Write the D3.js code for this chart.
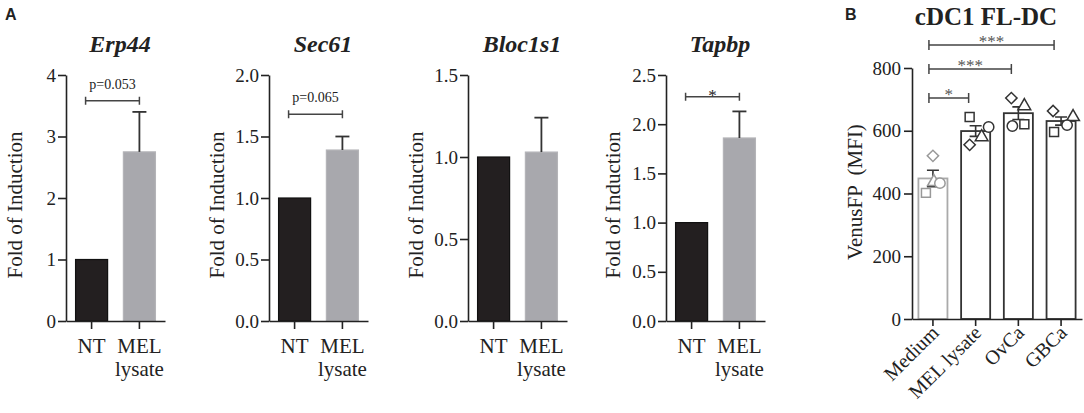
<!DOCTYPE html>
<html>
<head>
<meta charset="utf-8">
<script src="https://cdn.jsdelivr.net/npm/d3@7"></script>
<style>
  body { margin: 0; background: #fff; }
  svg text, svg tspan { font-family: "Liberation Serif", "Times New Roman", Times, serif; fill: #222; }
  svg text.letter { font-family: "Liberation Sans", Arial, sans-serif; font-weight: bold; font-size: 16px; }
  .domain, .tick line { stroke: #222; stroke-width: 1.6; }
</style>
</head>
<body>
<svg id="fig" width="1084" height="413" font-family="Liberation Serif, serif"></svg>
<script>
// ---- panel A data (fold of induction, NT vs MEL lysate) ----
var genes = ["Erp44", "Sec61", "Bloc1s1", "Tapbp"];
var groupsA = ["NT", "MEL lysate"];
var meansA = [[1, 2.75], [1, 1.39], [1, 1.03], [1, 1.86]];
var errA = [[0, 0.65], [0, 0.11], [0, 0.21], [0, 0.27]];
var yMaxA = [4, 2, 1.5, 2.5];
var yStepA = [1, 0.5, 0.5, 0.5];
var pLabelsA = ["p=0.053", "p=0.065", null, "*"];
var pLevelsA = [3.58, 1.68, null, 2.28];

// ---- panel B data (cDC1 FL-DC, VenusFP MFI) ----
var groupsB = ["Medium", "MEL lysate", "OvCa", "GBCa"];
var meansB = [448, 599, 656, 631];
var semB = [26, 17, 20, 13];
var diamondB = [520, 555, 704, 663];
var squareB = [402, 644, 621, 596];
var triangleB = [437, 580, 679, 644];
var circleB = [433, 612, 615, 618];
var yTicksB = [0, 200, 400, 600, 800];
var sigPairsB = [["Medium", "MEL lysate"], ["Medium", "OvCa"], ["Medium", "GBCa"]];
var sigLabelsB = ["*", "***", "***"];
var sigLevelsB = [704, 797, 873];

// layout
var axisXA = [66, 269, 468, 666];
var yLabelXA = [15, 217, 416, 613];
var baseA = 321, topA = 75;
var markerShift = {
  diamond: [0, -6, -7, -8],
  square: [-7, -6, 6, -7],
  triangle: [1, 6, 6, 12],
  circle: [7, 13, -6, 6]
};

var svg = d3.select("#fig");

svg.append("text").attr("class", "letter").attr("x", 5).attr("y", 20).text("A");
svg.append("text").attr("class", "letter").attr("x", 845).attr("y", 20).text("B");

// ---------- panel A ----------
genes.forEach(function(gene, i) {
  var g = svg.append("g").attr("transform", `translate(${axisXA[i]},0)`);

  var x = d3.scaleBand()
    .domain(groupsA)
    .range([0, 99])
    .paddingInner(0.33)
    .paddingOuter(0.2);

  var y = d3.scaleLinear()
    .domain([0, yMaxA[i]])
    .range([baseA, topA]);

  var bw = x.bandwidth();

  // bars
  g.selectAll("rect.bar")
    .data(groupsA)
    .enter()
    .append("rect")
    .attr("class", "bar")
    .attr("x", d => x(d))
    .attr("y", (d, j) => y(meansA[i][j]))
    .attr("width", bw)
    .attr("height", (d, j) => y(0) - y(meansA[i][j]))
    .attr("fill", (d, j) => j == 0 ? "#231f20" : "#a8a8ad")
    .attr("stroke", (d, j) => j == 0 ? "#111" : "#b4b4b8")
    .attr("stroke-width", 1.2);

  // upward error bars
  groupsA.forEach(function(d, j) {
    if (errA[i][j] <= 0) return;
    var cx = x(d) + bw / 2;
    var top = y(meansA[i][j] + errA[i][j]);
    g.append("line")
      .attr("x1", cx).attr("x2", cx)
      .attr("y1", y(meansA[i][j])).attr("y2", top)
      .attr("stroke", "#333").attr("stroke-width", 1.8);
    g.append("line")
      .attr("x1", cx - 7).attr("x2", cx + 7)
      .attr("y1", top).attr("y2", top)
      .attr("stroke", "#333").attr("stroke-width", 1.8);
  });

  // axes
  var ticks = d3.range(0, yMaxA[i] + 1e-9, yStepA[i]);
  g.append("g")
    .call(d3.axisLeft(y)
      .tickValues(ticks)
      .tickSize(8)
      .tickSizeOuter(0)
      .tickPadding(2)
      .tickFormat(yStepA[i] < 1 ? d3.format(".1f") : d3.format("d")))
    .attr("font-family", null)
    .attr("font-size", null)
    .selectAll("text")
    .style("font-size", "19px");

  g.append("g")
    .attr("transform", `translate(0,${baseA})`)
    .call(d3.axisBottom(x).tickSize(8).tickSizeOuter(0).tickFormat(""));

  // x labels (two lines for MEL lysate)
  groupsA.forEach(function(d) {
    var t = g.append("text")
      .attr("x", x(d) + bw / 2)
      .attr("y", 353)
      .attr("text-anchor", "middle")
      .style("font-size", "21px");
    d.split(" ").forEach(function(w, k) {
      t.append("tspan")
        .attr("x", x(d) + bw / 2)
        .attr("dy", k == 0 ? 0 : 23)
        .text(w);
    });
  });

  // title
  g.append("text")
    .attr("x", 54)
    .attr("y", 52)
    .attr("text-anchor", "middle")
    .style("font-size", "24px")
    .style("font-weight", "bold")
    .style("font-style", "italic")
    .text(gene);

  // y label
  svg.append("text")
    .attr("transform", `translate(${yLabelXA[i] + 7},205) rotate(-90)`)
    .attr("text-anchor", "middle")
    .style("font-size", "21px")
    .text("Fold of Induction");

  // significance bracket
  if (pLabelsA[i]) {
    var by = y(pLevelsA[i]);
    var xa = x(groupsA[0]) + bw / 2 - 6;
    var xb = x(groupsA[1]) + bw / 2;
    g.append("path")
      .attr("d", `M${xa},${by - 4}V${by + 4}M${xa},${by}H${xb}M${xb},${by - 4}V${by + 4}`)
      .attr("stroke", "#444").attr("stroke-width", 1.5).attr("fill", "none");
    var isStar = pLabelsA[i] == "*";
    g.append("text")
      .attr("x", (xa + xb) / 2)
      .attr("y", isStar ? by + 4 : by - 12)
      .attr("text-anchor", "middle")
      .style("font-size", isStar ? "17px" : "14px")
      .text(pLabelsA[i]);
  }
});

// ---------- panel B ----------
var gB = svg.append("g").attr("transform", "translate(912,0)");

var xB = d3.scaleBand()
  .domain(groupsB)
  .range([0, 170])
  .paddingInner(0.32)
  .paddingOuter(0.15);

var yB = d3.scaleLinear()
  .domain([0, 800])
  .range([319, 68]);

var bwB = xB.bandwidth();

gB.selectAll("rect.bar")
  .data(groupsB)
  .enter()
  .append("rect")
  .attr("class", "bar")
  .attr("x", d => xB(d))
  .attr("y", (d, j) => yB(meansB[j]))
  .attr("width", bwB)
  .attr("height", (d, j) => yB(0) - yB(meansB[j]))
  .attr("fill", "none")
  .attr("stroke", (d, j) => j == 0 ? "#aaa" : "#333")
  .attr("stroke-width", 1.8);

// error bars (mean +/- sem)
groupsB.forEach(function(d, j) {
  var cx = xB(d) + bwB / 2;
  var hi = yB(meansB[j] + semB[j]), lo = yB(meansB[j] - semB[j]);
  gB.append("path")
    .attr("d", `M${cx - 6},${hi}H${cx + 6}M${cx},${hi}V${lo}M${cx - 6},${lo}H${cx + 6}`)
    .attr("stroke", "#333").attr("stroke-width", 1.6).attr("fill", "none");
});

// replicate points
var pointSets = [
  {vals: diamondB, shift: markerShift.diamond, type: d3.symbolSquare, size: 64, rot: 45},
  {vals: squareB, shift: markerShift.square, type: d3.symbolSquare, size: 80, rot: 0},
  {vals: triangleB, shift: markerShift.triangle, type: d3.symbolTriangle, size: 70, rot: 0},
  {vals: circleB, shift: markerShift.circle, type: d3.symbolCircle, size: 85, rot: 0}
];
pointSets.forEach(function(ps) {
  gB.selectAll(null)
    .data(groupsB)
    .enter()
    .append("path")
    .attr("d", d3.symbol().type(ps.type).size(ps.size))
    .attr("transform", (d, j) =>
      `translate(${xB(d) + bwB / 2 + ps.shift[j]},${yB(ps.vals[j])}) rotate(${ps.rot})`)
    .attr("fill", "#fff")
    .attr("stroke", (d, j) => j == 0 ? "#999" : "#333")
    .attr("stroke-width", 1.5);
});

// axes
gB.append("g")
  .call(d3.axisLeft(yB).tickValues(yTicksB).tickSize(8).tickSizeOuter(0).tickPadding(3))
  .attr("font-family", null)
  .attr("font-size", null)
  .selectAll("text")
  .style("font-size", "19px");

gB.append("g")
  .attr("transform", "translate(0,319)")
  .call(d3.axisBottom(xB).tickSize(7).tickSizeOuter(0).tickFormat(""));

gB.selectAll("text.xlab")
  .data(groupsB)
  .enter()
  .append("text")
  .attr("class", "xlab")
  .attr("text-anchor", "end")
  .attr("transform", d => `translate(${xB(d) + bwB / 2 + 7},334) rotate(-45)`)
  .style("font-size", "20px")
  .text(d => d);

// y label
svg.append("text")
  .attr("transform", "translate(862,192) rotate(-90)")
  .attr("text-anchor", "middle")
  .style("font-size", "21px")
  .style("white-space", "pre")
  .text("VenusFP  (MFI)");

// title
svg.append("text")
  .attr("x", 986)
  .attr("y", 25)
  .attr("text-anchor", "middle")
  .style("font-size", "25px")
  .style("font-weight", "bold")
  .text("cDC1 FL-DC");

// significance brackets
sigPairsB.forEach(function(pair, k) {
  var by = yB(sigLevelsB[k]);
  var xa = xB(pair[0]) + bwB / 2 - 4;
  var xb = xB(pair[1]) + bwB / 2 - 7;
  gB.append("path")
    .attr("d", `M${xa},${by - 5}V${by + 5}M${xa},${by}H${xb}M${xb},${by - 5}V${by + 5}`)
    .attr("stroke", "#444").attr("stroke-width", 1.5).attr("fill", "none");
  gB.append("text")
    .attr("x", (xa + xb) / 2)
    .attr("y", by + 2)
    .attr("text-anchor", "middle")
    .style("font-size", "17px")
    .style("fill", "#555")
    .text(sigLabelsB[k]);
});
</script>
</body>
</html>
